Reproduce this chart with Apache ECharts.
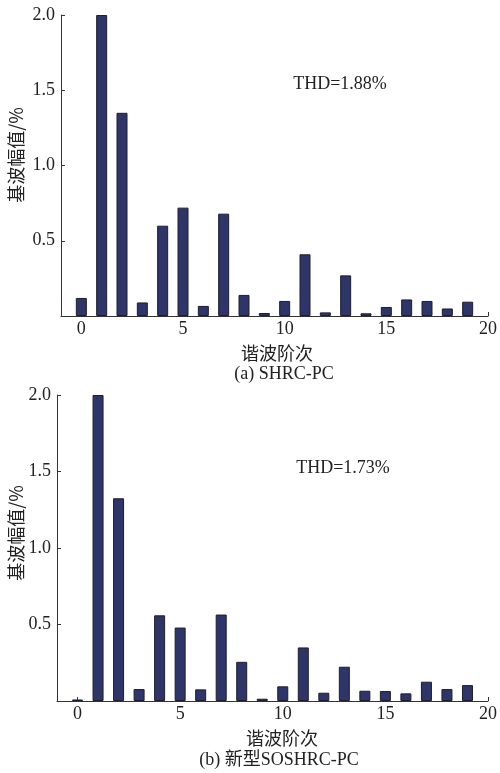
<!DOCTYPE html>
<html><head><meta charset="utf-8">
<script src="https://cdn.jsdelivr.net/npm/echarts@6/dist/echarts.min.js"></script>
<style>html,body{margin:0;padding:0;background:#fff}#c{width:500px;height:773px}</style>
</head><body><div id="c"></div>
<script>
const orders = [0,1,2,3,4,5,6,7,8,9,10,11,12,13,14,15,16,17,18,19];
const valuesA = [0.12,2.0,1.35,0.09,0.60,0.72,0.067,0.68,0.14,0.02,0.10,0.41,0.024,0.27,0.018,0.06,0.11,0.10,0.05,0.095];
const valuesB = [0.01,2.0,1.325,0.078,0.56,0.48,0.076,0.565,0.256,0.015,0.096,0.35,0.054,0.224,0.067,0.065,0.05,0.126,0.078,0.104];
const xTicks = [0,5,10,15,20];
const yTicks = [0.5,1.0,1.5,2.0];
const yName = '基波幅值/%';
const xName = '谐波阶次';
const captionA = '(a) SHRC-PC';
const captionB = '(b) 新型SOSHRC-PC';
const thdA = 'THD=1.88%';
const thdB = 'THD=1.73%';

const serif = "'Liberation Serif','DejaVu Serif',serif";
const cjk = "'Noto Sans CJK SC',sans-serif";
const axisColor = '#333';
function xAxis(gi){
  return {type:'value', gridIndex:gi, min:-1, max:20,
    axisLine:{show:true, onZero:false, lineStyle:{color:axisColor, width:1}},
    axisTick:{show:true, inside:true, length:4, customValues:xTicks, lineStyle:{color:axisColor}},
    axisLabel:{customValues:xTicks, margin:4, fontFamily:serif, fontSize:18, color:'#222'},
    splitLine:{show:false}};
}
function yAxis(gi){
  return {type:'value', gridIndex:gi, min:0, max:2,
    axisLine:{show:true, onZero:false, lineStyle:{color:axisColor, width:1}},
    axisTick:{show:true, inside:true, length:4, customValues:yTicks, lineStyle:{color:axisColor}},
    axisLabel:{customValues:yTicks, margin:6, fontFamily:serif, fontSize:18, color:'#222',
      formatter:v=>v.toFixed(1)},
    splitLine:{show:false}};
}
const barStyle = {color:'#2e3568', borderColor:'#1e1e2e', borderWidth:1};
const option = {
  animation:false,
  grid:[{left:61, top:15, width:427, height:301},{left:57, top:395, width:440, height:306}],
  xAxis:[xAxis(0), xAxis(1)],
  yAxis:[yAxis(0), yAxis(1)],
  series:[
    {type:'bar', xAxisIndex:0, yAxisIndex:0, barWidth:11, itemStyle:barStyle,
     data:orders.map((o,i)=>[o, valuesA[i]])},
    {type:'bar', xAxisIndex:1, yAxisIndex:1, barWidth:11, itemStyle:barStyle,
     data:orders.map((o,i)=>[o, valuesB[i]])}
  ],
  graphic:[
    {type:'text', x:340, y:84, style:{text:thdA, font:"18px "+serif, fill:'#222', align:'center', verticalAlign:'middle'}},
    {type:'text', x:343, y:468, style:{text:thdB, font:"18px "+serif, fill:'#222', align:'center', verticalAlign:'middle'}},
    {type:'text', x:16, y:155, rotation:Math.PI/2, style:{text:yName, font:"18px "+cjk, fill:'#222', align:'center', verticalAlign:'middle'}},
    {type:'text', x:16, y:533, rotation:Math.PI/2, style:{text:yName, font:"18px "+cjk, fill:'#222', align:'center', verticalAlign:'middle'}},
    {type:'text', x:277, y:353, style:{text:xName, font:"18px "+cjk, fill:'#222', align:'center', verticalAlign:'middle'}},
    {type:'text', x:282, y:738, style:{text:xName, font:"18px "+cjk, fill:'#222', align:'center', verticalAlign:'middle'}},
    {type:'text', x:284, y:374, style:{text:captionA, font:"18px "+serif, fill:'#222', align:'center', verticalAlign:'middle'}},
    {type:'text', x:279, y:760, style:{text:captionB, font:"18px "+serif+","+cjk, fill:'#222', align:'center', verticalAlign:'middle'}}
  ]
};
echarts.init(document.getElementById('c'), null, {renderer:'canvas'}).setOption(option);
</script></body></html>
